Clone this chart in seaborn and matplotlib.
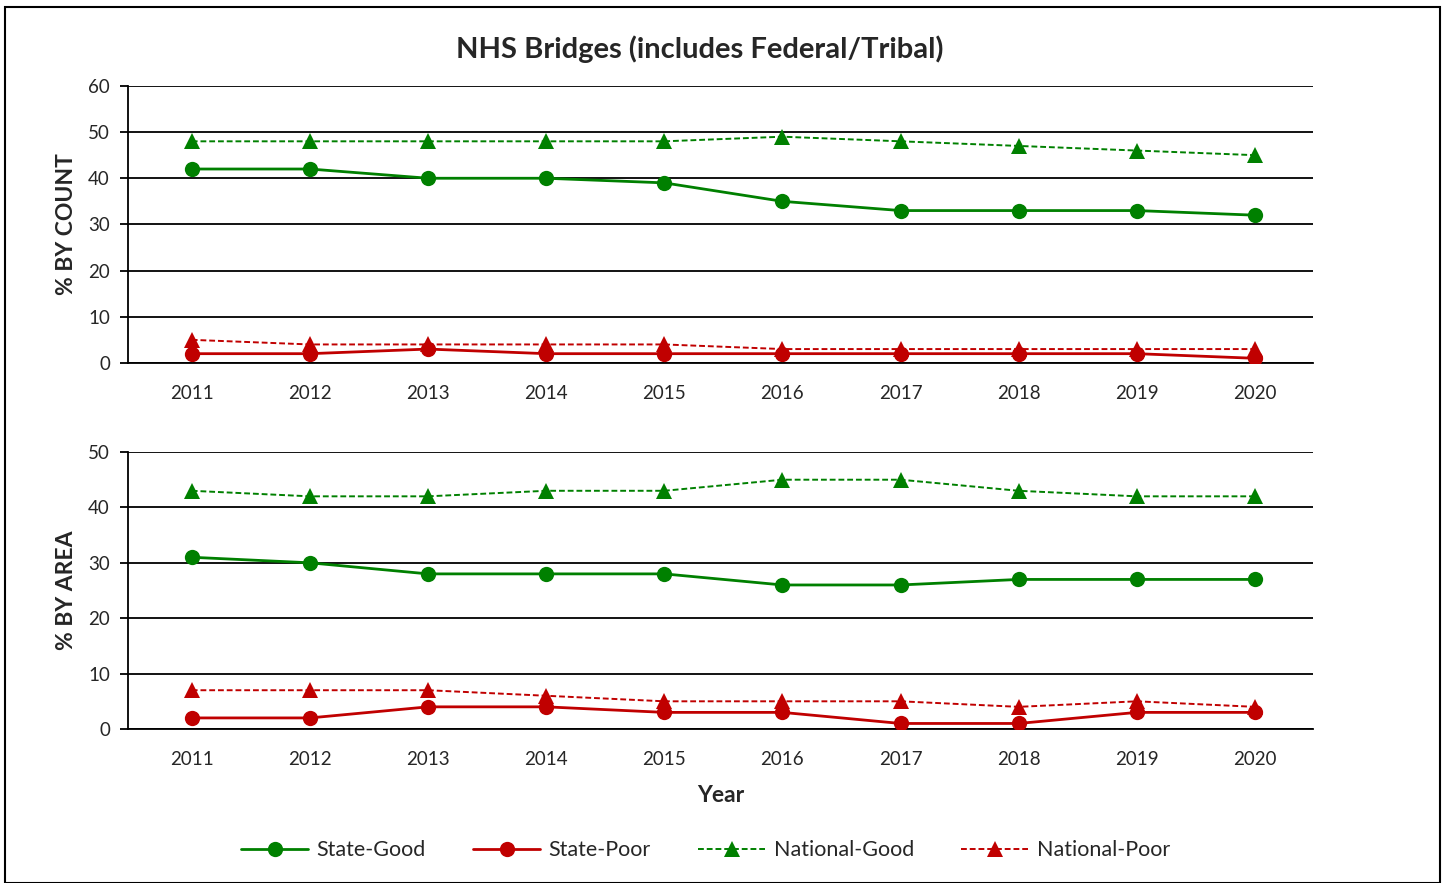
import numpy as np
import pandas as pd
import matplotlib
matplotlib.use("Agg")
import matplotlib.pyplot as plt
import seaborn as sns
from matplotlib.patches import Rectangle

# Chart data
years = [2011, 2012, 2013, 2014, 2015, 2016, 2017, 2018, 2019, 2020]

count_state_good = [42, 42, 40, 40, 39, 35, 33, 33, 33, 32]
count_state_poor = [2, 2, 3, 2, 2, 2, 2, 2, 2, 1]
count_national_good = [48, 48, 48, 48, 48, 49, 48, 47, 46, 45]
count_national_poor = [5, 4, 4, 4, 4, 3, 3, 3, 3, 3]

area_state_good = [31, 30, 28, 28, 28, 26, 26, 27, 27, 27]
area_state_poor = [2, 2, 4, 4, 3, 3, 1, 1, 3, 3]
area_national_good = [43, 42, 42, 43, 43, 45, 45, 43, 42, 42]
area_national_poor = [7, 7, 7, 6, 5, 5, 5, 4, 5, 4]

series_names = ["State-Good", "State-Poor", "National-Good", "National-Poor"]
GREEN = "#008000"
RED = "#C00000"

sns.set_style("white")
plt.rcParams["font.family"] = ["Lato", "DejaVu Sans"]

fig = plt.figure(figsize=(14.49, 8.83), dpi=100)
ax_top = fig.add_axes([0.0883, 0.589, 0.8177, 0.3137])
ax_bot = fig.add_axes([0.0883, 0.1744, 0.8177, 0.3137])

styles = {
    "State-Good": dict(color=GREEN, marker="o", linestyle="-", linewidth=2.0, markersize=11),
    "State-Poor": dict(color=RED, marker="o", linestyle="-", linewidth=2.0, markersize=11),
    "National-Good": dict(color=GREEN, marker="^", linestyle=(0, (3, 1.5)), linewidth=1.4, markersize=11),
    "National-Poor": dict(color=RED, marker="^", linestyle=(0, (3, 1.5)), linewidth=1.4, markersize=11),
}


def draw_panel(ax, values, ymax, ylabel):
    for name, vals in zip(series_names, values):
        st = styles[name]
        sns.lineplot(x=years, y=vals, ax=ax, color=st["color"], marker=st["marker"],
                     linestyle=st["linestyle"], linewidth=st["linewidth"],
                     markersize=st["markersize"], markeredgewidth=0, label=name,
                     legend=False, zorder=3)
    ax.set_xlim(2010.46, 2020.49)
    ax.set_ylim(0, ymax)
    ax.set_yticks(np.arange(0, ymax + 1, 10))
    ax.yaxis.grid(True, color="black", linewidth=1.3)
    ax.set_axisbelow(True)
    for side in ["top", "right"]:
        ax.spines[side].set_visible(False)
    for side in ["left", "bottom"]:
        ax.spines[side].set_color("black")
        ax.spines[side].set_linewidth(1.3)
    ax.set_xticks(years)
    ax.set_xticks([2020.49], minor=True)
    ax.tick_params(axis="x", which="major", length=4, width=1.3, direction="out",
                   color="black", pad=12, labelsize=13.5)
    ax.tick_params(axis="x", which="minor", length=4, width=1.3, direction="out", color="black")
    ax.tick_params(axis="y", length=6, width=1.3, direction="out", color="black", pad=7,
                   labelsize=13.5, left=True)
    ax.set_ylabel(ylabel, fontsize=16.5, fontweight="bold", labelpad=8)
    ax.set_xlabel("")


draw_panel(ax_top, [count_state_good, count_state_poor, count_national_good, count_national_poor],
           60, "% BY COUNT")
draw_panel(ax_bot, [area_state_good, area_state_poor, area_national_good, area_national_poor],
           50, "% BY AREA")
ax_bot.set_xlabel("Year", fontsize=16.5, fontweight="bold", labelpad=12)

fig.text(0.483, 0.944, "NHS Bridges (includes Federal/Tribal)", ha="center", va="center",
         fontsize=21, fontweight="bold")

handles, labels = ax_top.get_legend_handles_labels()
fig.legend(handles, labels, loc="center", bbox_to_anchor=(0.487, 0.037), ncol=4,
           frameon=False, fontsize=15.5, handlelength=3.1, columnspacing=2.2, handletextpad=0.4)

fig.patches.append(Rectangle((5 / 1449, 0.0), 1435 / 1449, 1 - 7 / 883, transform=fig.transFigure,
                             fill=False, edgecolor="black", linewidth=1.5))

fig.savefig("out.png", dpi=100)
